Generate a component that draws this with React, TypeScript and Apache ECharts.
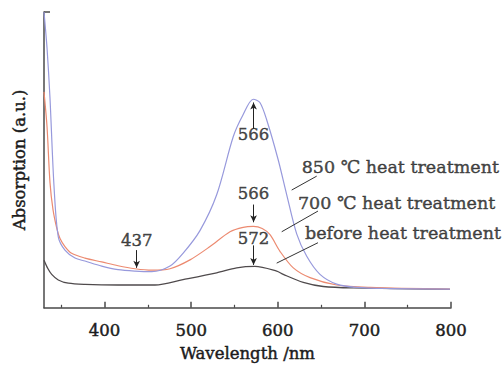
import React, { useEffect, useRef } from "react";
import * as echarts from "echarts";

// 850 °C heat treatment (blue)
const x850 = [330, 333.5, 336.9, 341.5, 346.5, 354.2, 365.8, 377.3, 396.6, 415.5, 435, 454.4, 475.5, 490.5, 510.1, 529.4, 548.6, 559.6, 571.7, 579.3, 587.2, 600.2, 610.3, 621.8, 633.4, 648.7, 668, 691.1, 730, 798.8];
const y850 = [100, 87.8, 71, 41.4, 24, 19.5, 16.8, 15.8, 14.1, 12.9, 12.4, 12.2, 14.1, 18.4, 26.1, 38.2, 57.9, 65.1, 70.5, 69.4, 63.5, 50.3, 38.2, 25, 17.4, 11.3, 8, 6.9, 6.5, 6.3];

// 700 °C heat treatment (orange)
const x700 = [330, 333.5, 336.9, 340.4, 345, 348.5, 354.2, 361.9, 377.3, 396.6, 415.5, 435, 454.4, 475.5, 498.6, 521.7, 544.8, 560, 571.7, 582, 591, 602.5, 617.9, 637.2, 668, 706.4, 798.8];
const y700 = [73, 61.2, 42.4, 33.2, 26.6, 23.4, 20.7, 18.4, 16.8, 15.5, 14.2, 13.2, 12.7, 13.2, 16.2, 20.7, 25.7, 27.2, 27.5, 26.8, 24.7, 19.1, 13.5, 10.2, 7.7, 6.9, 6.3];

// before heat treatment (dark grey)
const xBefore = [330, 334.6, 338.9, 346.5, 358.1, 377.3, 415.5, 458.2, 490.5, 529.4, 552.5, 573.6, 598.7, 606.3, 629.4, 652.5, 687.1, 798.8];
const yBefore = [16.1, 13.2, 11.3, 9.4, 8.3, 7.9, 7.7, 7.7, 9.5, 11.8, 13.5, 14, 12.4, 11.3, 8.6, 7.2, 6.7, 6.2];

// peak annotations
const peakTexts = ["437", "566", "566", "572"];
const peakTextX = [437, 572, 572, 572];
const peakTextY = [22.8, 58.6, 38.8, 23.4];
const arrowX = [437, 572, 572, 572];
const arrowFromY = [19.5, 60.6, 34.9, 21.1];
const arrowToY = [13.5, 69.4, 28.9, 14.5];

// curve labels with leader lines
const curveLabels = ["850 ℃ heat treatment", "700 ℃ heat treatment", "before heat treatment"];
const curveLabelX = [627.6, 623.3, 631.4];
const curveLabelY = [47.5, 35.5, 25.3];
const leaderFromX = [644.9, 646.4, 646.4];
const leaderFromY = [44.5, 32.7, 22];
const leaderToX = [616, 604.5, 598.7];
const leaderToY = [39.8, 25.7, 15.1];

const xTickLabels = [400, 500, 600, 700, 800];
const xMinorTicks = [350, 450, 550, 650, 750];

const zip = (xs: number[], ys: number[]) => xs.map((x, i) => [x, ys[i]]);

const FONT = "DejaVu Serif";
const TEXT = "#1c1c1c";
const AXIS = "#4a4a4a";
const heavy = { textBorderColor: TEXT, textBorderWidth: 0.45 };

export default function App() {
  const ref = useRef<HTMLDivElement>(null);
  useEffect(() => {
    if (!ref.current) return;
    const chart = echarts.init(ref.current, null, { renderer: "svg" });
    chart.setOption({
      animation: false,
      backgroundColor: "#ffffff",
      grid: { left: 44, right: 53, top: 12, bottom: 51 },
      xAxis: [
        {
          type: "value",
          min: 330,
          max: 800,
          name: "Wavelength /nm",
          nameLocation: "middle",
          nameGap: 37,
          nameTextStyle: { fontFamily: FONT, fontSize: 16.5, color: TEXT, ...heavy },
          axisLine: { show: true, lineStyle: { color: AXIS, width: 1.5 } },
          axisTick: { show: true, inside: true, length: 6, customValues: xTickLabels, lineStyle: { color: AXIS, width: 1.5 } },
          axisLabel: { show: true, customValues: xTickLabels, margin: 14, fontFamily: FONT, fontSize: 16.5, color: TEXT, ...heavy },
          splitLine: { show: false },
        },
        {
          type: "value",
          min: 330,
          max: 800,
          position: "bottom",
          axisLine: { show: false },
          axisTick: { show: true, inside: true, length: 3, customValues: xMinorTicks, lineStyle: { color: AXIS, width: 1.2 } },
          axisLabel: { show: false },
          splitLine: { show: false },
        },
      ],
      yAxis: {
        type: "value",
        min: 0,
        max: 100,
        name: "Absorption (a.u.)",
        nameLocation: "middle",
        nameRotate: 90,
        nameGap: 16,
        nameTextStyle: { fontFamily: FONT, fontSize: 16.5, color: TEXT, ...heavy },
        axisLine: { show: true, lineStyle: { color: AXIS, width: 1.5 } },
        axisTick: { show: true, inside: true, length: 6, customValues: [100], lineStyle: { color: AXIS, width: 1.5 } },
        axisLabel: { show: false },
        splitLine: { show: false },
      },
      series: [
        {
          type: "line",
          data: zip(xBefore, yBefore),
          showSymbol: false,
          smooth: 0.3,
          clip: true,
          lineStyle: { color: "#4f4a4c", width: 1.3 },
        },
        {
          type: "line",
          data: zip(x700, y700),
          showSymbol: false,
          smooth: 0.3,
          clip: true,
          lineStyle: { color: "#ec8a70", width: 1.2 },
        },
        {
          type: "line",
          data: zip(x850, y850),
          showSymbol: false,
          smooth: 0.3,
          clip: true,
          lineStyle: { color: "#9799dc", width: 1.2 },
        },
        {
          type: "line",
          data: [],
          silent: true,
          markLine: {
            silent: true,
            animation: false,
            symbol: ["none", "arrow"],
            symbolSize: [5, 7],
            label: { show: false },
            lineStyle: { color: "#222", width: 1, type: "solid" },
            data: arrowX.map((x, i) => [
              { coord: [x, arrowFromY[i]] },
              { coord: [x, arrowToY[i]] },
            ]),
          },
        },
        {
          type: "line",
          data: [],
          silent: true,
          markLine: {
            silent: true,
            animation: false,
            symbol: ["none", "none"],
            label: { show: false },
            lineStyle: { color: "#333", width: 1, type: "solid" },
            data: leaderFromX.map((x, i) => [
              { coord: [x, leaderFromY[i]] },
              { coord: [leaderToX[i], leaderToY[i]] },
            ]),
          },
        },
        {
          type: "scatter",
          symbolSize: 0,
          silent: true,
          clip: false,
          data: peakTexts.map((t, i) => ({
            value: [peakTextX[i], peakTextY[i]],
            label: {
              show: true,
              formatter: t,
              position: [0, 0],
              align: "center",
              verticalAlign: "middle",
              fontFamily: FONT,
              fontSize: 16.5,
              color: TEXT,
              ...heavy,
            },
          })),
        },
        {
          type: "scatter",
          symbolSize: 0,
          silent: true,
          clip: false,
          data: curveLabels.map((t, i) => ({
            value: [curveLabelX[i], curveLabelY[i]],
            label: {
              show: true,
              formatter: t,
              position: [0, 0],
              align: "left",
              verticalAlign: "middle",
              fontFamily: FONT,
              fontSize: 17.5,
              color: TEXT,
              ...heavy,
            },
          })),
        },
      ],
    });
    return () => chart.dispose();
  }, []);
  return (
    <div
      ref={ref}
      style={{ position: "fixed", left: 0, top: 0, width: 504, height: 367, background: "#fff" }}
    />
  );
}
